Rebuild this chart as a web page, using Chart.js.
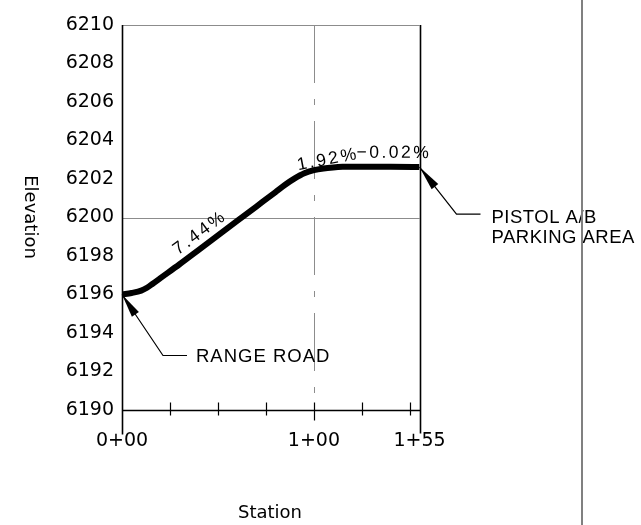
<!DOCTYPE html>
<html>
<head>
<meta charset="utf-8">
<script src="https://cdn.jsdelivr.net/npm/chart.js@4"></script>
<style>
  html, body { margin: 0; padding: 0; background: #fff; }
  canvas { display: block; }
</style>
</head>
<body>
<canvas id="c" width="641" height="525"></canvas>
<script>
const stations   = [0, 5, 10, 13, 16, 20, 30, 40, 50, 60, 70, 80, 85, 90, 95, 100, 105, 110, 115, 120, 127, 140, 155];
const elevations = [6196.0, 6196.08, 6196.2, 6196.35, 6196.56, 6196.85, 6197.57, 6198.32, 6199.07, 6199.82, 6200.57, 6201.32,
                    6201.7, 6202.03, 6202.3, 6202.46, 6202.55, 6202.6, 6202.63, 6202.64, 6202.64, 6202.63, 6202.62];
const xTickValues   = [0, 100, 155];
const xMinorTicks   = [25, 50, 75, 100, 125, 150];
const yRange        = [6190, 6210];
const yStep         = 2;
const gradeLabels   = ['7.44%', '1.92%', '\u22120.02%'];
const grades        = [7.44, 1.92, -0.02];
const gradeAnchors  = [[40.6, 6199.2], [107.3, 6203.0], [141.7, 6203.35]];
const calloutTexts  = [['RANGE ROAD'], ['PISTOL A/B', 'PARKING AREA']];
const calloutPoints = [[0, 6196.0], [155, 6202.62]];

function fmtStation(v) {
  const h = Math.floor(v / 100), r = Math.round(v % 100);
  return h + '+' + (r < 10 ? '0' + r : '' + r);
}

const pts = stations.map((s, i) => ({ x: s, y: elevations[i] }));

function arrow(ctx, tx, ty, ex, ey, len, half) {
  const dx = ex - tx, dy = ey - ty, L = Math.hypot(dx, dy);
  const ux = dx / L, uy = dy / L;
  const bx = tx + ux * len, by = ty + uy * len;
  ctx.beginPath();
  ctx.moveTo(tx, ty);
  ctx.lineTo(bx - uy * half, by + ux * half);
  ctx.lineTo(bx + uy * half, by - ux * half);
  ctx.closePath();
  ctx.fill();
}

const profilePlugin = {
  id: 'profile',
  beforeDatasetsDraw(chart) {
    const { ctx, scales: { x, y } } = chart;
    ctx.save();
    ctx.strokeStyle = '#8c8c8c';
    ctx.lineWidth = 1;
    const yT = Math.round(y.getPixelForValue(yRange[1])) + 0.5;
    ctx.beginPath();
    ctx.moveTo(x.getPixelForValue(0), yT);
    ctx.lineTo(x.getPixelForValue(155), yT);
    ctx.stroke();
    const y200 = Math.round(y.getPixelForValue(6200)) + 0.5;
    ctx.beginPath();
    ctx.moveTo(x.getPixelForValue(0), y200);
    ctx.lineTo(x.getPixelForValue(155), y200);
    ctx.stroke();
    ctx.setLineDash([58, 16, 6, 16]);
    const x100 = Math.round(x.getPixelForValue(100)) + 0.5;
    ctx.beginPath();
    ctx.moveTo(x100, y.getPixelForValue(yRange[1]));
    ctx.lineTo(x100, y.getPixelForValue(yRange[0]));
    ctx.stroke();
    ctx.restore();
  },
  afterDatasetsDraw(chart) {
    const { ctx, scales: { x, y } } = chart;
    const x0 = Math.round(x.getPixelForValue(0)) + 0.5;
    const x1 = Math.round(x.getPixelForValue(155)) + 0.5;
    const yTop = y.getPixelForValue(yRange[1]);
    const yBot = Math.round(y.getPixelForValue(yRange[0])) + 0.5;
    ctx.save();
    ctx.strokeStyle = '#000';
    ctx.fillStyle = '#000';
    ctx.lineWidth = 1.6;
    ctx.beginPath();
    ctx.moveTo(x0, yTop); ctx.lineTo(x0, yBot + 24);
    ctx.moveTo(x1, yTop); ctx.lineTo(x1, yBot + 23);
    ctx.moveTo(x0, yBot); ctx.lineTo(x1, yBot);
    ctx.stroke();
    ctx.lineWidth = 1.2;
    ctx.beginPath();
    xMinorTicks.forEach(v => {
      const px = Math.round(x.getPixelForValue(v)) + 0.5;
      ctx.moveTo(px, yBot - 8);
      ctx.lineTo(px, yBot + (v === 100 ? 10 : 5));
    });
    ctx.stroke();

    // callouts
    ctx.lineWidth = 1.2;
    ctx.font = '18.5px "Liberation Sans", Arial, sans-serif';
    ctx.textBaseline = 'middle';
    {
      const tx = x.getPixelForValue(calloutPoints[0][0]), ty = y.getPixelForValue(calloutPoints[0][1]);
      const ex = tx + 41, ey = ty + 61;
      ctx.beginPath();
      ctx.moveTo(tx, ty); ctx.lineTo(ex, ey); ctx.lineTo(ex + 24, ey);
      ctx.stroke();
      arrow(ctx, tx, ty, ex, ey, 24, 4.2);
      ctx.textAlign = 'left';
      ctx.letterSpacing = '1px';
      ctx.fillText(calloutTexts[0][0], ex + 33, ey + 1);
    }
    {
      const tx = x.getPixelForValue(calloutPoints[1][0]), ty = y.getPixelForValue(calloutPoints[1][1]);
      const ex = tx + 37, ey = ty + 47;
      ctx.beginPath();
      ctx.moveTo(tx, ty); ctx.lineTo(ex, ey); ctx.lineTo(ex + 24, ey);
      ctx.stroke();
      arrow(ctx, tx, ty, ex, ey, 25, 4.2);
      ctx.textAlign = 'left';
      ctx.letterSpacing = '0.5px';
      ctx.fillText(calloutTexts[1][0], ex + 35, ey + 4);
      ctx.fillText(calloutTexts[1][1], ex + 35, ey + 24);
    }

    // grade labels, rotated to the grade as drawn on these scales
    ctx.font = '17.5px "Liberation Sans", Arial, sans-serif';
    ctx.letterSpacing = '2.5px';
    ctx.textAlign = 'center';
    gradeLabels.forEach((t, i) => {
      const px = x.getPixelForValue(gradeAnchors[i][0]);
      const py = y.getPixelForValue(gradeAnchors[i][1]);
      const dxp = x.getPixelForValue(60) - x.getPixelForValue(50);
      const dyp = y.getPixelForValue(6200 + 10 * grades[i] / 100) - y.getPixelForValue(6200);
      const ang = Math.atan2(dyp, dxp);
      ctx.save();
      ctx.translate(px, py);
      ctx.rotate(ang);
      ctx.fillText(t, 0, 0);
      ctx.restore();
    });
    ctx.letterSpacing = '0px';

    // axis titles
    ctx.font = '18px "DejaVu Sans", sans-serif';
    ctx.textAlign = 'center';
    ctx.save();
    ctx.translate(30, 217);
    ctx.rotate(Math.PI / 2);
    ctx.fillText('Elevation', 0, 0);
    ctx.restore();
    ctx.fillText('Station', 270, 513);

    // drawing frame line at right
    ctx.strokeStyle = '#808080';
    ctx.lineWidth = 2;
    ctx.beginPath();
    ctx.moveTo(582, 0); ctx.lineTo(582, 525);
    ctx.stroke();
    ctx.restore();
  }
};

new Chart(document.getElementById('c'), {
  type: 'scatter',
  data: {
    datasets: [
      { data: pts, showLine: true, borderColor: '#000', borderWidth: 6, pointRadius: 0,
        cubicInterpolationMode: 'monotone', borderCapStyle: 'butt', borderJoinStyle: 'round' },
      { data: pts, showLine: true, borderColor: 'rgba(140,140,140,0.9)', borderWidth: 0.8, pointRadius: 0,
        cubicInterpolationMode: 'monotone' }
    ]
  },
  options: {
    responsive: false,
    animation: false,
    devicePixelRatio: 1,
    layout: { padding: { left: 0, right: 221.5, top: 25, bottom: 0 } },
    plugins: { legend: { display: false }, tooltip: { enabled: false } },
    scales: {
      x: {
        type: 'linear', min: 0, max: 155,
        afterBuildTicks: s => { s.ticks = xTickValues.map(v => ({ value: v })); },
        afterFit: s => { s.height = 115; },
        grid: { display: false, drawTicks: false }, border: { display: false },
        ticks: { font: { family: 'DejaVu Sans', size: 19 }, color: '#000', padding: 20,
                 maxRotation: 0, autoSkip: false, callback: v => fmtStation(v) }
      },
      y: {
        min: yRange[0], max: yRange[1],
        afterFit: s => { s.width = 122; },
        grid: { display: false, drawTicks: false }, border: { display: false },
        ticks: { stepSize: yStep, font: { family: 'DejaVu Sans', size: 19 }, color: '#000', padding: 8,
                 callback: v => '' + v }
      }
    }
  },
  plugins: [profilePlugin]
});
</script>
</body>
</html>
